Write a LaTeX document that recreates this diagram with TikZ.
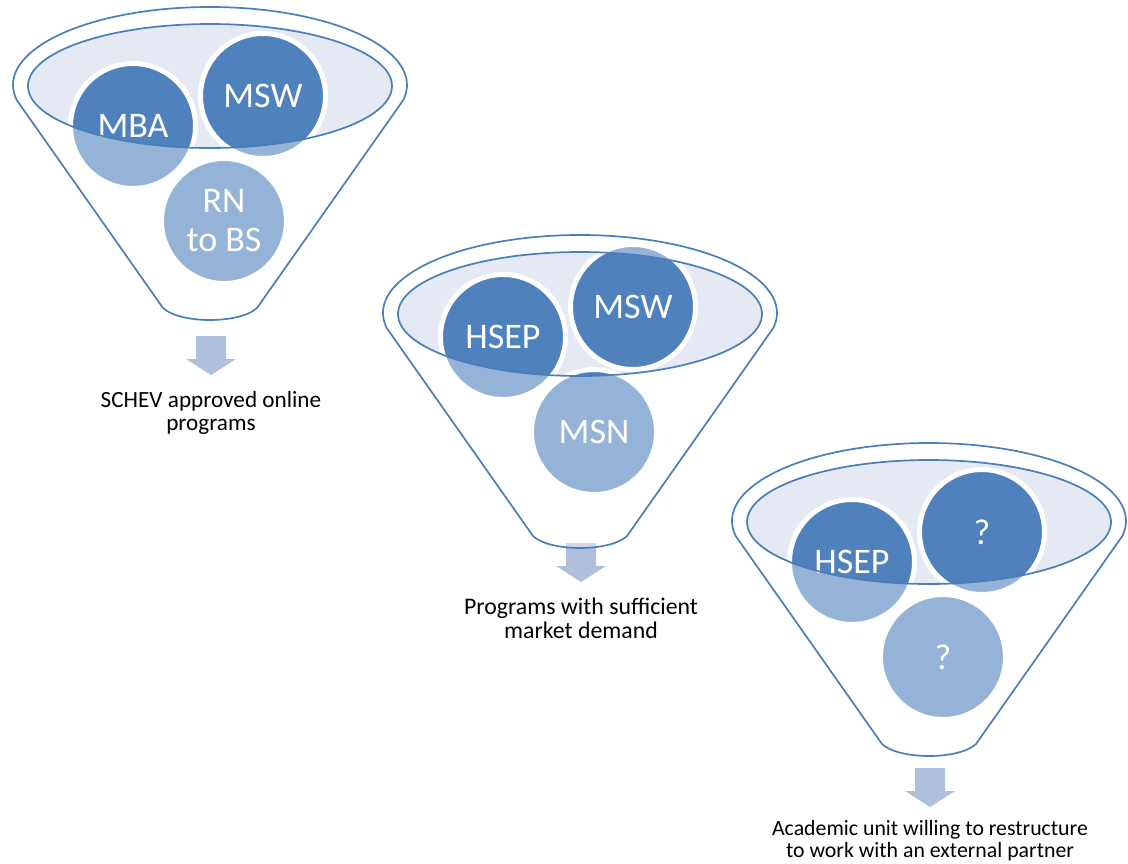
\documentclass[tikz,border=0pt]{standalone}
\usepackage{fontspec}
\setmainfont{Carlito}
\usetikzlibrary{positioning}
\definecolor{fblue}{RGB}{79,129,189}
\definecolor{frim}{RGB}{74,126,187}
\definecolor{fpale}{RGB}{228,233,243}
\definecolor{farrow}{RGB}{175,192,221}

\begin{document}
\begin{tikzpicture}[x=1pt,y=-1pt,
  ball/.style={circle,fill=fblue,draw=white,line width=5pt,minimum size=125pt,
    inner sep=0pt,text=white,align=center,font=\fontsize{36}{39}\selectfont},
  rim/.style={draw=frim,line width=1.7pt},
  caption/.style={align=center,inner sep=0pt}]
\useasboundingbox (0,0) rectangle (1128,863);
\foreach \fx/\fy/\dy/\ady/\fs/\gap/\ta/\tb/\tc/\cap [count=\i] in {%
  210/85/17/21/23.2/16/MBA/MSW/{RN\\to BS}/{SCHEV approved online\\programs},
  580/313/0/0/23.8/16/HSEP/MSW/MSN/{Programs with sufficient\\market demand},
  929/521/17/17/21.8/13/HSEP/?/?/{Academic unit willing to restructure\\to work with an external partner}}{%
 \begin{scope}[shift={(\fx,\fy)}]
  % arrow out of the spout
  \fill[farrow] (-14,230+\ady) -- (16,230+\ady) -- (16,253+\ady) -- (26,253+\ady)
    -- (1,269+\ady) -- (-24,253+\ady) -- (-14,253+\ady) -- cycle;
  \coordinate (tip\i) at (1,269+\ady);
  \fill[fpale] (0,1) ellipse[x radius=182,y radius=62];
  \node[ball] (a\i) at (-77,24+\dy) {\ta};
  \node[ball] (b\i) at (53,-6+\dy) {\tb};
  \node[ball] (c\i) at (14,119+\dy) {\tc};
  % funnel body washes the balls out below the mouth
  \fill[white,fill opacity=0.4,even odd rule]
    (-193.3,15) arc[start angle=168.9,end angle=371.1,x radius=197,y radius=78]
    -- (47,223) .. controls (30,239) and (-30,239) .. (-47,223) -- cycle
    (0,1) ellipse[x radius=182,y radius=62];
  \draw[rim] (-193.3,15) arc[start angle=168.9,end angle=371.1,x radius=197,y radius=78]
    -- (47,223) .. controls (30,239) and (-30,239) .. (-47,223) -- cycle;
  \draw[rim] (0,1) ellipse[x radius=182,y radius=62];
  \node[caption,font=\fontsize{\fs}{\fs}\selectfont,below=\gap pt of tip\i] (t\i) {\cap};
 \end{scope}
}
\end{tikzpicture}
\end{document}
